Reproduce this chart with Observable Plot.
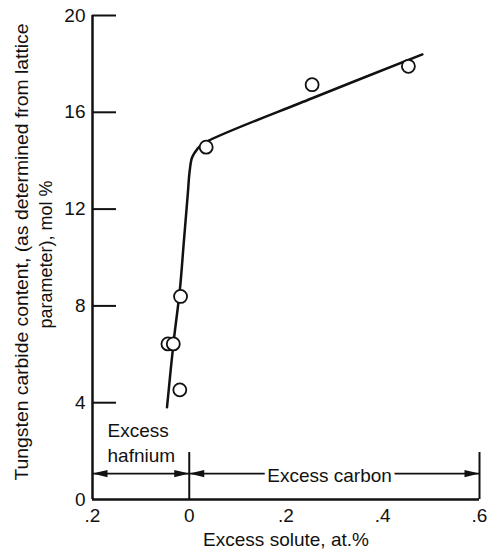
<!DOCTYPE html>
<html><head><meta charset="utf-8">
<script src="https://cdn.jsdelivr.net/npm/d3@7"></script>
<script src="https://cdn.jsdelivr.net/npm/@observablehq/plot@0.6"></script>
<style>body{margin:0;background:#fff}</style>
</head><body><div id="chart"></div>
<script>
// Axis ticks
const xTicks = [-0.2, 0, 0.2, 0.4, 0.6];
const xTickLabels = [".2", "0", ".2", ".4", ".6"];
const yTicks = [0, 4, 8, 12, 16, 20];

// Measured points (excess solute, at.% ; WC content, mol %)
const pointX = [-0.044, -0.033, -0.018, -0.0195, 0.035, 0.254, 0.453];
const pointY = [6.43, 6.43, 8.39, 4.53, 14.56, 17.14, 17.9];

// Hand-drawn fitted curve
const curveX = [-0.046, -0.032, -0.0195, -0.011, -0.003, 0.001, 0.006, 0.017, 0.030, 0.254, 0.482];
const curveY = [3.81, 6.57, 8.64, 10.70, 12.63, 13.60, 14.14, 14.49, 14.72, 16.58, 18.39];

// Region bracket annotation
const regionStart = -0.2;
const regionSplit = 0;
const regionEnd = 0.6;
const bracketY = 1.07;
const bracketTop = 1.94;
const hafniumLabel = "Excess\nhafnium";
const hafniumLabelPos = {x: -0.169, y: 1.53};
const carbonLabel = "Excess carbon";
const carbonLabelPos = {x: 0.29, y: 0.74};

const xLabel = "Excess solute, at.%";
const yLabel1 = "Tungsten carbide content, (as determined from lattice";
const yLabel2 = "parameter), mol %";

const ink = "#111";
const points = pointX.map((x, i) => ({x, y: pointY[i]}));
const curve = curveX.map((x, i) => ({x, y: curveY[i]}));

const headRight = {draw(c) { c.moveTo(0, 0); c.lineTo(-15, -3.6); c.lineTo(-15, 3.6); c.closePath(); }};
const headLeft = {draw(c) { c.moveTo(0, 0); c.lineTo(15, -3.6); c.lineTo(15, 3.6); c.closePath(); }};

const chart = Plot.plot({
  width: 488,
  height: 550,
  marginLeft: 92,
  marginRight: 9,
  marginTop: 15,
  marginBottom: 51,
  style: {fontFamily: "'Liberation Sans', Arial, sans-serif", fontSize: "19px", background: "#fff", color: ink},
  x: {domain: [-0.2, 0.6]},
  y: {domain: [0, 20]},
  marks: [
    Plot.axisX(xTicks, {tickSize: 0, tickPadding: 8.5, tickFormat: d => xTickLabels[xTicks.indexOf(d)], label: null}),
    Plot.axisY(yTicks, {tickSize: 0, tickPadding: 7, label: null}),
    Plot.tickY(yTicks.filter(d => d > 0), {y: d => d, insetRight: 363, stroke: ink, strokeWidth: 2}),
    Plot.ruleX([regionStart], {stroke: ink, strokeWidth: 2.5}),
    Plot.ruleY([0], {stroke: ink, strokeWidth: 2.5}),
    // bracket
    Plot.ruleX([regionSplit, regionEnd], {x: d => d, y1: 0, y2: bracketTop, stroke: ink, strokeWidth: 2}),
    Plot.ruleY([bracketY], {y: d => d, x1: regionStart, x2: regionEnd, stroke: ink, strokeWidth: 1.6}),
    Plot.dot([regionSplit, regionEnd], {x: d => d, y: bracketY, symbol: headRight, fill: ink, stroke: "none"}),
    Plot.dot([regionStart, regionSplit], {x: d => d, y: bracketY, symbol: headLeft, fill: ink, stroke: "none"}),
    Plot.text([hafniumLabel], {x: hafniumLabelPos.x, y: hafniumLabelPos.y, textAnchor: "start", lineAnchor: "bottom", lineHeight: 1.316, fill: ink}),
    Plot.text([carbonLabel], {x: carbonLabelPos.x, y: carbonLabelPos.y, lineAnchor: "bottom", fill: ink, stroke: "#fff", strokeWidth: 8}),
    // data
    Plot.line(curve, {x: "x", y: "y", curve: "catmull-rom", stroke: ink, strokeWidth: 2.5}),
    Plot.dot(points, {x: "x", y: "y", r: 6.5, fill: "#fff", stroke: ink, strokeWidth: 1.8}),
    // axis titles
    Plot.text([xLabel], {frameAnchor: "bottom", dy: 46, textAnchor: "middle", lineAnchor: "bottom", fill: ink}),
    Plot.text([yLabel1], {frameAnchor: "left", rotate: -90, dx: -65, dy: -5.5, textAnchor: "middle", lineAnchor: "bottom", fill: ink}),
    Plot.text([yLabel2], {frameAnchor: "left", rotate: -90, dx: -41, dy: -3, textAnchor: "middle", lineAnchor: "bottom", fill: ink})
  ]
});
d3.select(chart).selectAll("text").each(function() {
  const t = this.textContent;
  if (t === yLabel1) this.setAttribute("textLength", 457);
  else if (t === yLabel2) this.setAttribute("textLength", 148);
  else return;
  this.setAttribute("lengthAdjust", "spacingAndGlyphs");
});
document.getElementById("chart").append(chart);
</script>
</body></html>
